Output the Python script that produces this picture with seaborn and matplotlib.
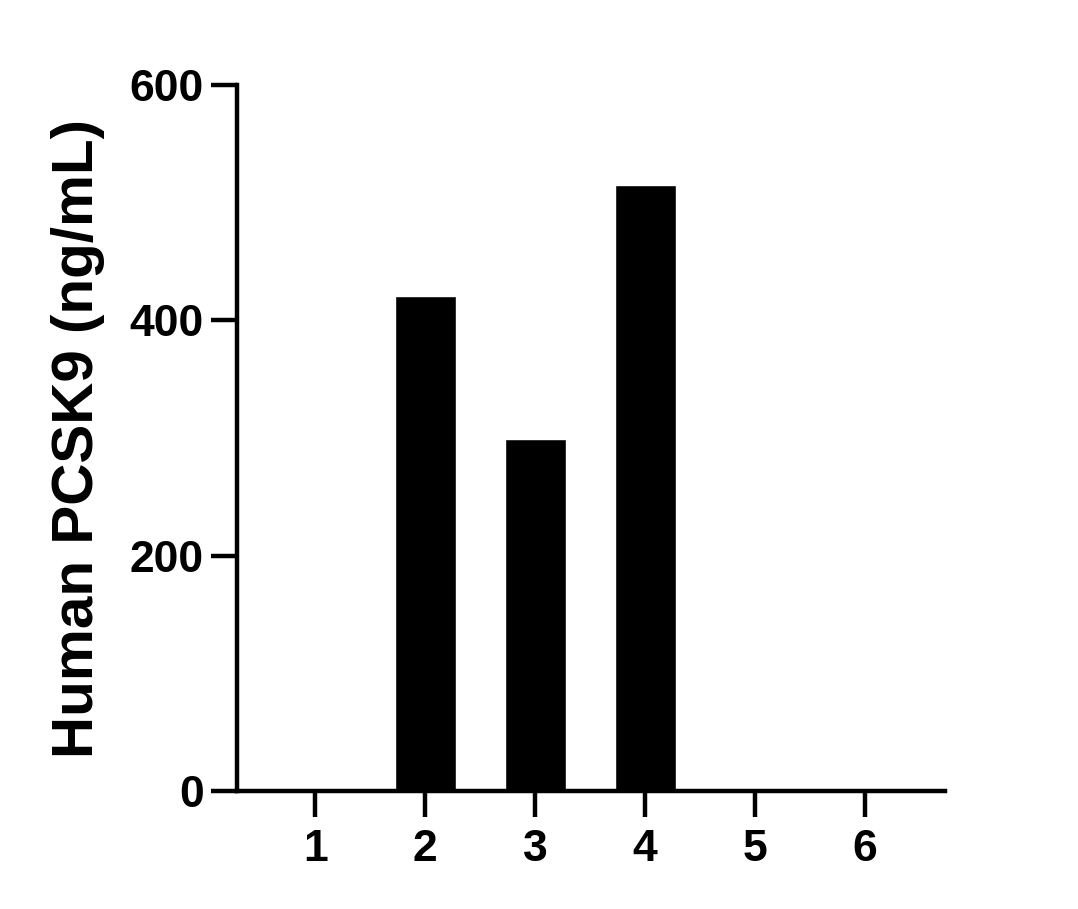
import numpy as np
import pandas as pd
import seaborn as sns
import matplotlib.pyplot as plt

samples = ["1", "2", "3", "4", "5", "6"]
pcsk9 = [0, 421, 299, 515, 0, 0]

df = pd.DataFrame({"Sample": samples, "PCSK9": pcsk9})

sns.set_style("ticks")
plt.rcParams['font.family'] = ['Liberation Sans', 'DejaVu Sans']
plt.rcParams['font.weight'] = 'bold'
plt.rcParams['text.color'] = 'black'
plt.rcParams['axes.labelcolor'] = 'black'
plt.rcParams['xtick.color'] = 'black'
plt.rcParams['ytick.color'] = 'black'

fig = plt.figure(figsize=(10.78, 9.09), dpi=100)
ax = fig.add_axes([0.22, 0.1298, 0.6566, 0.7767])

sns.barplot(x="Sample", y="PCSK9", data=df, color="black", width=0.555,
            saturation=1, ax=ax)

ax.set_xlim(-0.71, 5.727)
ax.set_ylim(0, 600)
ax.set_yticks([0, 200, 400, 600])
ax.set_xlabel("")
ax.set_ylabel("Human PCSK9 (ng/mL)", fontsize=42, fontweight='bold', labelpad=18)

for s in ["top", "right"]:
    ax.spines[s].set_visible(False)
for s in ["left", "bottom"]:
    ax.spines[s].set_linewidth(3.2)
    ax.spines[s].set_color("black")

ax.tick_params(axis="both", width=3.2, length=19, color="black",
               labelsize=32, pad=5, labelcolor="black")
ax.tick_params(axis="x", pad=8)
for lab in ax.get_xticklabels() + ax.get_yticklabels():
    lab.set_fontweight('bold')

fig.savefig("out.png", dpi=100)
